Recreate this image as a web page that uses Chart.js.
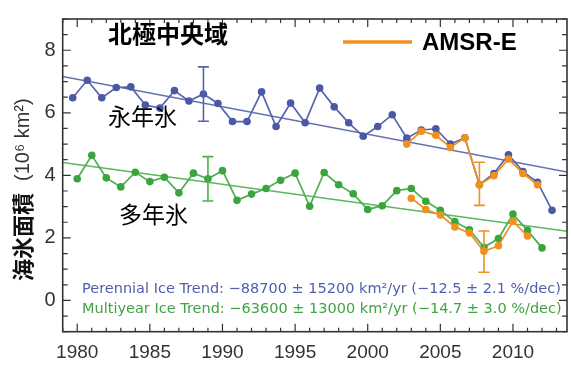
<!DOCTYPE html>
<html>
<head>
<meta charset="utf-8">
<script src="https://cdn.jsdelivr.net/npm/chart.js@4/dist/chart.umd.min.js"></script>
<style>
  html, body { margin: 0; padding: 0; background: #fff; }
  #wrap { width: 571px; height: 365px; position: relative; }
</style>
</head>
<body>
<div id="wrap"><canvas id="c" width="571" height="365"></canvas></div>
<script>
// Arctic central region: perennial ice (September) and multiyear ice (winter), 10^6 km^2
const perennialYears = [1979,1980,1981,1982,1983,1984,1985,1986,1987,1988,1989,1990,1991,1992,1993,1994,1995,1996,1997,1998,1999,2000,2001,2002,2003,2004,2005,2006,2007,2008,2009,2010,2011,2012];
const perennialArea  = [6.48,7.04,6.48,6.81,6.83,6.25,6.15,6.71,6.38,6.60,6.30,5.72,5.72,6.67,5.56,6.31,5.68,6.79,6.19,5.68,5.25,5.56,5.94,5.19,5.45,5.49,5.00,5.20,3.70,4.06,4.66,4.12,3.78,2.88];

const multiyearYears = [1980,1981,1982,1983,1984,1985,1986,1987,1988,1989,1990,1991,1992,1993,1994,1995,1996,1997,1998,1999,2000,2001,2002,2003,2004,2005,2006,2007,2008,2009,2010,2011,2012];
const multiyearArea  = [3.89,4.64,3.92,3.63,4.10,3.80,3.94,3.44,4.07,3.89,4.15,3.20,3.40,3.58,3.84,4.07,3.01,4.09,3.70,3.41,2.91,3.03,3.51,3.58,3.17,2.88,2.52,2.26,1.70,1.98,2.76,2.24,1.68];

// AMSR-E estimates
const amsrPerennialYears = [2002,2003,2004,2005,2006,2007,2008,2009,2010,2011];
const amsrPerennialArea  = [5.00,5.41,5.28,4.89,5.20,3.70,3.99,4.52,4.06,3.70];
const amsrMultiyearYears = [2003,2004,2005,2006,2007,2008,2009,2010,2011];
const amsrMultiyearArea  = [3.27,2.91,2.73,2.35,2.16,1.57,1.75,2.53,2.06];

// Linear trends, values at the two ends of the time axis
const trendYears      = [1979, 2013.72];
const perennialTrend  = [7.16, 4.11];
const multiyearTrend  = [4.41, 2.21];

// Error bars: [year, value, half-width]
const perennialErr     = [1988, 6.60, 0.87];
const multiyearErr     = [1989, 3.89, 0.71];
const amsrPerennialErr = [2007, 3.73, 0.69];
const amsrMultiyearErr = [2008, 1.56, 0.66];

// Axis ticks
const xTickLabels = [1980, 1985, 1990, 1995, 2000, 2005, 2010];
const yTickLabels = [0, 2, 4, 6, 8];

// Perennial ice is the September minimum, so it sits late in each year
const SEPTEMBER = 0.69;

const BLUE = '#4b58a6', BLUE_LINE = '#5865ad';
const GREEN = '#3aa53f', GREEN_LINE = '#4caf4f';
const ORANGE = '#f0901f';
const FRAME = '#333';

const pts = (years, vals, shift) => years.map((y, i) => ({ x: y + shift, y: vals[i] }));

const seriesStyle = (color, lineColor) => ({
  borderColor: lineColor, backgroundColor: color,
  pointBackgroundColor: color, pointBorderColor: color,
  pointRadius: 3.8, pointBorderWidth: 0, borderWidth: 1.7,
  tension: 0, fill: false
});

const errorBars = {
  id: 'errorBars',
  afterDatasetsDraw(chart) {
    const { ctx, scales: { x, y } } = chart;
    const bars = [
      [perennialErr, SEPTEMBER, BLUE_LINE],
      [multiyearErr, 0, GREEN_LINE],
      [amsrPerennialErr, SEPTEMBER, ORANGE],
      [amsrMultiyearErr, 0, ORANGE]
    ];
    ctx.save();
    ctx.lineWidth = 1.6;
    bars.forEach(([e, shift, col]) => {
      const px = x.getPixelForValue(e[0] + shift);
      const top = y.getPixelForValue(e[1] + e[2]);
      const bot = y.getPixelForValue(e[1] - e[2]);
      ctx.strokeStyle = col;
      ctx.beginPath();
      ctx.moveTo(px, top); ctx.lineTo(px, bot);
      ctx.moveTo(px - 5.5, top); ctx.lineTo(px + 5.5, top);
      ctx.moveTo(px - 5.5, bot); ctx.lineTo(px + 5.5, bot);
      ctx.stroke();
    });
    ctx.restore();
  }
};

const frameAndTicks = {
  id: 'frameAndTicks',
  afterDraw(chart) {
    const { ctx, chartArea: a, scales: { x, y } } = chart;
    ctx.save();
    ctx.strokeStyle = FRAME;
    ctx.lineWidth = 1.6;
    ctx.strokeRect(a.left, a.top, a.right - a.left, a.bottom - a.top);
    ctx.lineWidth = 1.2;
    ctx.beginPath();
    for (let yr = 1979; yr <= 2013; yr++) {
      const px = x.getPixelForValue(yr);
      const len = yr % 5 === 0 ? 8 : 4;
      ctx.moveTo(px, a.bottom); ctx.lineTo(px, a.bottom - len);
      ctx.moveTo(px, a.top); ctx.lineTo(px, a.top + len);
    }
    for (let v = -1; v <= 9; v += 0.5) {
      const py = y.getPixelForValue(v);
      const len = (v % 2 === 0) ? 8 : 5;
      ctx.moveTo(a.left, py); ctx.lineTo(a.left + len, py);
      ctx.moveTo(a.right, py); ctx.lineTo(a.right - len, py);
    }
    ctx.stroke();
    ctx.restore();
  }
};

const annotations = {
  id: 'annotations',
  afterDraw(chart) {
    const { ctx } = chart;
    ctx.save();
    ctx.textBaseline = 'middle';
    ctx.fillStyle = '#000';

    ctx.font = 'bold 24px "Noto Sans CJK JP"';
    ctx.fillText('北極中央域', 108, 34);

    ctx.font = '23px "Noto Sans CJK JP"';
    ctx.fillText('永年氷', 108, 116);
    ctx.fillText('多年氷', 119, 214);

    // AMSR-E key
    ctx.strokeStyle = ORANGE;
    ctx.lineWidth = 3.5;
    ctx.beginPath();
    ctx.moveTo(343, 42); ctx.lineTo(412, 42);
    ctx.stroke();
    ctx.font = 'bold 24px "Liberation Sans"';
    ctx.fillText('AMSR-E', 422, 43);

    // Trend statements
    ctx.font = '14.5px "DejaVu Sans"';
    ctx.fillStyle = '#4f5fae';
    ctx.fillText('Perennial Ice Trend: \u221288700 \u00b1 15200 km\u00b2/yr (\u221212.5 \u00b1 2.1 %/dec)', 82, 289);
    ctx.fillStyle = '#3fa344';
    ctx.fillText('Multiyear Ice Trend: \u221263600 \u00b1 13000 km\u00b2/yr (\u221214.7 \u00b1 3.0 %/dec)', 82, 309);

    // Y axis title
    ctx.translate(23, 281);
    ctx.rotate(-Math.PI / 2);
    ctx.textAlign = 'left';
    ctx.fillStyle = '#111';
    ctx.font = 'bold 22px "Noto Sans CJK JP"';
    const head = '海氷面積';
    ctx.fillText(head, 0, 0);
    const w = ctx.measureText(head).width;
    ctx.fillStyle = '#333';
    ctx.font = '20px "Liberation Sans"';
    ctx.fillText('(10\u2076 km\u00b2)', w + 12, 0);
    ctx.restore();
  }
};

new Chart(document.getElementById('c'), {
  type: 'line',
  data: {
    datasets: [
      { data: pts(amsrPerennialYears, amsrPerennialArea, SEPTEMBER), ...seriesStyle(ORANGE, ORANGE), order: 1 },
      { data: pts(amsrMultiyearYears, amsrMultiyearArea, 0), ...seriesStyle(ORANGE, ORANGE), order: 1 },
      { data: pts(perennialYears, perennialArea, SEPTEMBER), ...seriesStyle(BLUE, BLUE_LINE), order: 2 },
      { data: pts(multiyearYears, multiyearArea, 0), ...seriesStyle(GREEN, GREEN_LINE), order: 2 },
      { data: pts(trendYears, perennialTrend, 0), borderColor: '#6570b2', borderWidth: 1.5, pointRadius: 0, order: 3 },
      { data: pts(trendYears, multiyearTrend, 0), borderColor: '#5cb75e', borderWidth: 1.5, pointRadius: 0, order: 3 }
    ]
  },
  options: {
    responsive: false,
    animation: false,
    devicePixelRatio: 1,
    layout: { padding: { top: 7.5, right: 3.7, left: 0, bottom: 0 } },
    plugins: { legend: { display: false }, tooltip: { enabled: false } },
    scales: {
      x: {
        type: 'linear', min: 1979, max: 2013.72,
        grid: { display: false, drawTicks: false },
        border: { display: false },
        afterBuildTicks: s => { s.ticks = xTickLabels.map(v => ({ value: v })); },
        afterFit: s => { s.height = 33.3; },
        ticks: {
          callback: v => String(v), padding: 10, maxRotation: 0, autoSkip: false,
          color: '#333', font: { family: 'Liberation Sans', size: 19 }
        }
      },
      y: {
        type: 'linear', min: -1, max: 9,
        grid: { display: false, drawTicks: false },
        border: { display: false },
        afterBuildTicks: s => { s.ticks = yTickLabels.map(v => ({ value: v })); },
        afterFit: s => { s.width = 62.7; },
        ticks: {
          callback: v => String(v), padding: 7, autoSkip: false,
          color: '#333', font: { family: 'Liberation Sans', size: 20 }
        }
      }
    }
  },
  plugins: [errorBars, frameAndTicks, annotations]
});
</script>
</body>
</html>
